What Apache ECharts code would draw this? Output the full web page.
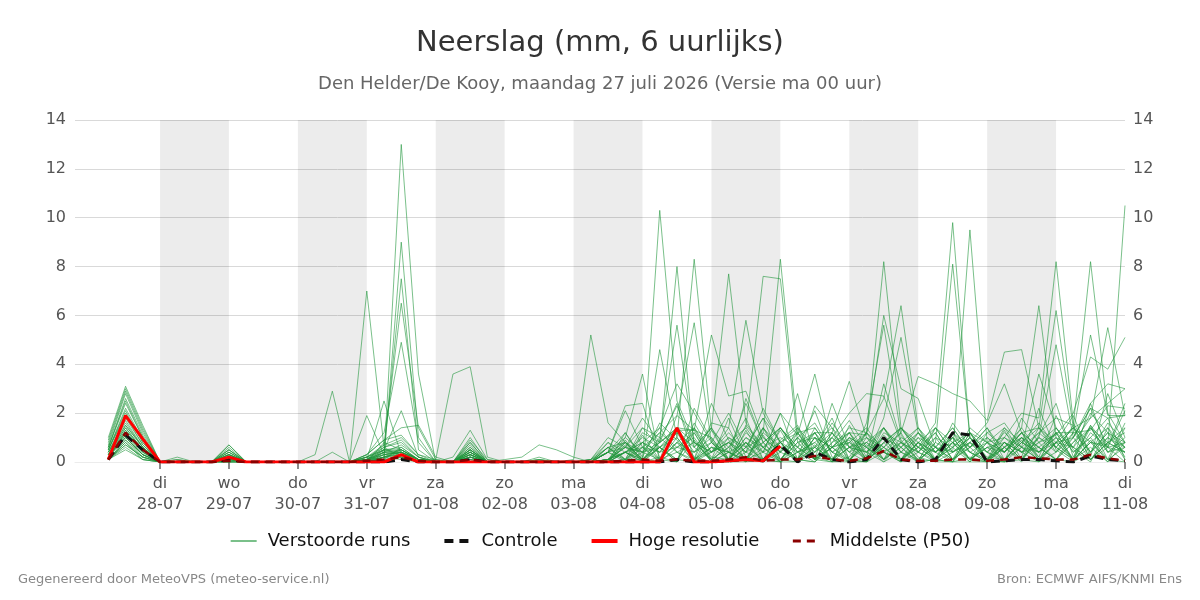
<!DOCTYPE html>
<html>
<head>
<meta charset="utf-8">
<title>Neerslag (mm, 6 uurlijks)</title>
<script src="https://cdn.jsdelivr.net/npm/echarts@6/dist/echarts.min.js"></script>
<style>
  html, body { margin: 0; padding: 0; background: #fff; }
  #chart { width: 1200px; height: 600px; }
</style>
</head>
<body>
<div id="chart"></div>
<script>
// tijd in uren na ma 27-07 00 uur, eerste waarde op +6 uur
var stepHours = 6;
var tickHours = [24, 48, 72, 96, 120, 144, 168, 192, 216, 240, 264, 288, 312, 336, 360];
var tickLabels = ['di\n28-07', 'wo\n29-07', 'do\n30-07', 'vr\n31-07', 'za\n01-08', 'zo\n02-08', 'ma\n03-08',
  'di\n04-08', 'wo\n05-08', 'do\n06-08', 'vr\n07-08', 'za\n08-08', 'zo\n09-08', 'ma\n10-08', 'di\n11-08'];
// grijze dagen (begin, eind in uren)
var shadedDays = [[24, 48], [72, 96], [120, 144], [168, 192], [216, 240], [264, 288], [312, 336]];

var control = [0.1, 1.1, 0.5, 0, 0, 0, 0, 0.1, 0, 0, 0, 0, 0, 0, 0, 0, 0, 0.1, 0, 0,
  0, 0.1, 0, 0, 0, 0, 0, 0, 0, 0, 0, 0, 0, 0.1, 0, 0, 0.05, 0.1, 0.05, 0.7,
  0, 0.4, 0.1, 0, 0.1, 1.0, 0.1, 0, 0.1, 1.2, 1.1, 0, 0.05, 0.1, 0.1, 0.05, 0, 0.25, 0.1, 0.05];
var hres = [0.1, 1.9, 0.95, 0, 0, 0, 0, 0.2, 0, 0, 0, 0, 0, 0, 0, 0, 0, 0.3, 0, 0,
  0, 0, 0, 0, 0, 0, 0, 0, 0, 0, 0, 0, 0, 1.4, 0, 0, 0.05, 0.1, 0.05, 0.65];
var p50 = [0.1, 1.2, 0.5, 0, 0, 0, 0, 0.05, 0, 0, 0, 0, 0, 0, 0, 0.05, 0.1, 0.2, 0.05, 0,
  0, 0.1, 0, 0, 0, 0, 0, 0, 0, 0, 0.05, 0.1, 0.05, 0.1, 0.05, 0.05, 0.1, 0.2, 0.05, 0.1,
  0.1, 0.25, 0.1, 0.05, 0.15, 0.45, 0.1, 0.05, 0.05, 0.1, 0.1, 0.05, 0.1, 0.2, 0.15, 0.1, 0.1, 0.3, 0.15, 0.05];

// verstoorde runs
var run01 = [0.2,1.2,0.4,0, 0,0,0,0.3,0,0,0,0, 0.3,2.9,0,0,0.2,0.1,0,0, 0,0,0,0,0,0,0,0, 0,0,0.9,0,0,1.3,0.2,0, 0,0,1.1,0,0,0.7,0,0, 1.6,5.6,1.1,0.2,0,0,0,0, 0,1.0,0.2,1.9,0.5,0,1.4,0.2];
var run02 = [0.1,0.7,0.2,0, 0,0,0,0,0,0,0,0, 0,0.4,0,0,0.8,0.5,0.1,0, 0,0.6,0,0,0,0,0,0, 0,0,1.2,0.2,1.6,0.9,0,0, 0,1.3,0.1,0,0.6,2.1,0.2,0, 0.2,3.2,0.9,0,0.1,0,1.2,0.1, 0,0.2,2.2,0.5,0,0.9,0,1.4];
var run03 = [0.3,1.0,0.3,0, 0,0,0,0.1,0,0,0,0, 0,0,0,7.0,0.6,0.2,0,0, 0,0,0,0,0,0,0,0, 0,0,0.1,0,0.9,2.3,0.6,0.1, 1.8,0.2,0,0.9,1.5,0.1,0,0.2, 1.2,2.6,6.4,1.4,0.1,0,0.2,0, 0.6,0,1.1,2.4,0.2,1.5,0.1,0];
var run04 = [0.6,2.6,1.1,0, 0,0,0,0.5,0,0,0,0, 0,0,0,1.9,0.3,0.4,0,0, 0,0.5,0,0,0,0,0,0, 0,0.6,0,1.1,0.1,1.9,1.3,0.2, 0.1,2.6,0.8,0,1.2,0.2,0,1.5, 0.2,1.8,5.1,1.2,0,0.8,0.1,0, 1.3,0.1,0,0.8,1.9,0.2,2.8,1.0];
var run05 = [0.2,1.3,0.5,0, 0,0,0,0.1,0,0,0,0, 0,0,0,0.1,2.5,0.3,0,0, 0,0.2,0,0,0,0,0,0, 0,0,0.7,0,0.2,0,2.2,0.9, 0,0.6,1.8,0.1,0,1.0,0.6,0.1, 0.7,0.4,1.2,3.5,3.2,2.8,2.5,1.7, 4.5,4.6,1.4,0.8,0.1,1.5,0.6,0];
var run06 = [0.1,0.8,0.1,0, 0,0,0,0,0,0,0,0, 0,0,0,0,0.1,13.0,3.6,0, 0,0.1,0,0,0,0,0,0, 0,0,0,0.4,0.1,0,0.9,0, 0.4,0,0.1,1.3,0.1,0,0.6,0.9, 0,0.4,0.1,0.6,1.6,9.8,1.0,0.2, 0.1,0.9,0,0.4,1.5,0.1,0.6,2.1];
var run07 = [0.8,2.9,1.3,0, 0,0,0,0.6,0,0,0,0, 0,0,0,0.2,0.1,9.0,1.0,0, 0,0.8,0,0,0,0.1,0,0, 0,0.4,2.1,0.6,0,1.3,0.1,2.4, 0.9,0.1,0,0.4,2.8,0.1,1.2,0, 0,1.1,0.4,0,0.8,8.1,1.0,0.1, 0,1.8,0.8,0.1,0,0.4,1.2,0.6];
var run08 = [0.2,1.1,0.4,0, 0,0,0,0.2,0,0,0,0, 0,0,0,0,0.4,7.5,0.5,0, 0,0.3,0,0,0,0,0,0, 0,0,0.4,0,0.6,0.1,0,1.3, 0.1,1.5,0.6,0,0.4,0,0.8,1.7, 0.6,0.1,1.4,0.8,0,0.4,9.5,0.8, 0,0.1,1.4,0.6,0.1,2.4,0.4,0.8];
var run09 = [1.0,3.1,1.5,0, 0.1,0,0,0.7,0,0,0,0, 0,0,0,0.2,0.7,6.5,1.4,0.1, 0,1.0,0,0,0,0.2,0,0, 0,0.8,0.1,1.4,0.6,0,1.6,0.4, 1.2,0.4,2.2,0.8,0.1,0.6,1.8,0.1, 0,0.8,0.1,1.2,0.4,0,0.8,1.6, 3.2,1.2,0.2,0.1,1.0,2.4,3.2,3.0];
var run10 = [0.3,1.5,0.6,0, 0,0,0,0.3,0,0,0,0, 0,0,0,0.3,1.2,4.9,0.8,0, 0,0.5,0,0,0,0,0,0, 0,0.1,0,0.8,1.4,0.4,0,0.6, 0.4,0,1.4,0.1,0.8,1.2,0,1.0, 0.1,1.4,0.6,0,0.1,0.8,0.4,0, 0.8,0.4,0,1.4,0.6,0.1,0.8,0.4];
var run11 = [0.1,0.9,0.3,0, 0,0,0,0.1,0,0,0,0, 0,0,0,0,0.5,2.1,0.2,0, 0,0.2,0,0,0,0,0,0, 0,0,0.8,0.1,0,0.6,1.0,0, 0.1,0.8,0,0.6,0.1,1.4,0.4,0, 1.0,0.1,0.6,1.4,0.4,1.0,0.1,0.6, 0.4,1.4,6.4,1.0,0.1,0.6,0,0.8];
var run12 = [0.5,2.0,0.8,0, 0,0,0,0.4,0,0,0,0, 0,0,0,0.3,0.9,1.4,1.5,0.2, 0,0.7,0,0,0,0,0,0, 0.1,0.4,1.2,0.1,0.8,1.3,1.3,1.0, 0,0.4,0.8,1.4,0.6,0.1,1.0,0.4, 1.2,0.6,0,0.4,1.4,0.8,0.1,1.2, 1.6,0.6,3.6,1.4,0.4,1.0,1.8,0.1];
var run13 = [0.2,1.2,0.4,0, 0,0,0,0,0,0,0,0, 0,0,0,0,0.2,0.5,0.1,0.1, 3.6,3.9,0.2,0,0,0,0,0, 0,0,0.4,0,0.1,0.8,0,0.4, 1.4,0,0.6,0.1,1.0,0.4,1.6,0.6, 0.1,1.2,0.8,0.1,0.6,1.4,0.4,0.8, 1.0,2.0,1.8,8.2,1.6,0.4,1.2,0.1];
var run14 = [0.6,2.4,1.0,0, 0,0,0,0.4,0,0,0,0, 0,0,0,0.1,0.6,0.9,0.2,0, 0.2,1.3,0.1,0,0,0,0,0, 0,0.1,0.4,1.0,0.6,0,1.4,0.1, 0.6,1.8,0.1,0.8,0,0.6,1.2,0.4, 0,0.8,1.4,0.4,0.1,1.6,0.6,0, 0.6,1.2,1.4,6.2,1.4,0.8,0.1,1.6];
var run15 = [0.1,0.5,0.1,0, 0,0,0,0,0,0,0,0, 0,0,0,0,0.1,0.2,0,0, 0,0.2,0,0.1,0.2,0.7,0.5,0.2, 0,0.4,0,0.6,0.4,1.4,0.1,0, 0.4,0.8,0.1,0,1.4,0.6,0.1,1.0, 0.6,0,0.4,1.0,0.1,0.6,1.2,0.1, 0.8,0.1,1.0,4.8,1.0,2.2,0.6,0.4];
var run16 = [0.3,1.4,0.5,0, 0,0,0,0.2,0,0,0,0, 0,0,0,0,0.3,0.4,0.1,0, 0,0.3,0,0,0,0,0,0.1, 5.2,1.6,0.8,0,0.6,0.1,1.2,0, 0.8,0.1,0.4,2.0,0.1,1.0,0,0.6, 0.4,1.0,0.1,0.6,1.2,0.1,0.8,0.4, 0.1,0.6,1.2,1.8,1.5,8.2,2.0,0.8];
var run17 = [0.4,1.8,0.7,0, 0,0,0,0.3,0,0,0,0, 0,0,0,0.1,0.4,0.7,0.2,0, 0,0.4,0,0,0,0,0,0, 0,0.4,2.3,2.4,0.1,0.8,0.4,1.4, 0.1,1.2,0.6,0,0.4,0.8,1.4,0.1, 0.8,0.4,0,0.8,0.1,1.2,0.6,1.4, 0.4,1.0,0.1,1.2,1.2,5.2,1.9,1.9];
var run18 = [0.1,0.8,0.2,0, 0,0,0,0,0,0,0,0, 0,0,0,0.1,0.2,0.3,0,0, 0,0.1,0,0,0,0,0,0, 0,0.1,1.0,3.6,0.1,0.4,0.8,0.1, 0,0.6,1.0,0.4,0.1,0,0.8,1.2, 0.1,0.6,1.2,0,0.8,0.4,1.0,0.1, 1.4,0.4,0.8,1.1,2.0,4.3,3.8,5.1];
var run19 = [0.3,1.2,0.5,0, 0,0,0,0.2,0,0,0,0, 0,0,0,0,0.1,0.6,0.1,0, 0,0.3,0,0,0,0,0,0, 0,0,0.1,0.1,10.3,2.5,0.8,0.1, 1.0,0.4,0.1,0.8,1.4,0.1,0.6,0, 1.2,0.1,0.8,0.4,0,1.0,0.6,1.4, 0.1,0.8,1.6,0.6,1.4,1.8,5.5,1.9];
var run20 = [0.4,1.6,0.6,0, 0,0,0,0.2,0,0,0,0, 0,0,0,0.2,0.5,0.3,0,0, 0,0.5,0,0,0,0,0,0, 0,0.4,0.8,0.1,4.6,1.0,0.1,0.6, 0.1,0.8,0,1.4,0.4,0.6,0.1,0.8, 1.4,0.4,0.1,1.0,0.6,0,1.2,0.4, 0,0.6,0.4,1.0,0.1,0.8,0.7,10.5];
var run21 = [0.7,2.8,1.2,0, 0.1,0,0,0.5,0,0,0,0, 0,0,0,0.1,0.7,1.0,0.3,0, 0,0.8,0,0,0,0.1,0,0, 0.1,0.6,0.1,1.2,0.8,8.0,0.6,1.4, 0.4,2.4,0.8,0.1,1.0,1.6,0.4,0.1, 0.6,1.4,0.4,0.1,1.0,0.6,0,0.8, 0.4,1.2,0.6,0.1,0.8,1.8,2.4,3.0];
var run22 = [0.2,1.1,0.3,0, 0,0,0,0.1,0,0,0,0, 0,0,0,0,0.2,0.4,0.1,0, 0,0.3,0,0,0,0,0,0, 0,0.1,0.6,1.4,1.0,5.6,0.8,0.4, 0.8,0.1,1.2,0.6,0,0.4,1.0,0.1, 0,0.8,1.4,0.6,0.1,1.2,0.4,0, 0.8,0.1,1.0,0.4,1.2,1.3,2.3,2.2];
var run23 = [0.1,0.7,0.2,0, 0,0,0,0.1,0,0,0,0, 0,0,0,0.1,0.3,0.2,0,0, 0,0.2,0,0,0,0,0,0, 0,0.1,0.8,0.4,1.4,3.2,2.0,0.8, 0.1,1.0,0.4,0,0.8,0.1,2.4,0.6, 0.4,0,0.8,1.4,0.6,0.1,1.0,0.4, 1.2,0.6,0.1,0.8,1.0,2.2,1.8,1.9];
var run24 = [0.5,2.2,0.9,0, 0,0,0,0.4,0,0,0,0, 0,0,0,0.2,0.5,0.6,0.1,0, 0,0.5,0,0,0,0,0,0, 0,0.1,0.4,0.8,0.1,1.0,8.3,1.3, 0.6,0.1,1.4,0.4,1.0,0.1,0.6,1.2, 0.1,1.0,0.6,0,1.4,0.4,0.8,0.1, 0.6,1.4,0.4,1.2,0.1,0.8,0.6,2.4];
var run25 = [0.3,1.3,0.5,0, 0,0,0,0.2,0,0,0,0, 0,0,0,0,0.4,0.3,0,0, 0,0.3,0,0,0,0,0,0, 0,0.4,0.1,0.6,1.2,1.9,5.7,0.8, 2.0,0.6,0.1,0.8,0.4,1.2,0.1,0.6, 1.0,0.4,0,0.8,0.1,0.6,1.2,0.8, 0.1,0.8,1.4,0.4,1.0,0.1,0.8,1.4];
var run26 = [0.4,1.7,0.6,0, 0,0,0,0.3,0,0,0,0, 0,0,0,0.1,0.3,0.5,0.1,0, 0,0.4,0,0,0,0,0,0, 0.1,0.8,0.4,0.1,0.6,1.4,1.3,5.2, 2.7,2.9,1.0,0.4,1.2,0.1,0.6,0.8, 0.4,1.4,0.1,0.8,0.4,1.0,0.1,0.6, 0.8,0.4,1.2,0.6,0.1,1.4,0.8,0.4];
var run27 = [0.1,0.6,0.1,0, 0,0,0,0,0,0,0,0, 0,0,0,0,0.1,0.2,0,0, 0,0.1,0,0,0,0,0,0, 0,0.1,0.4,0.8,0.4,1.2,0.6,1.4, 7.7,1.6,0.6,1.0,0.6,0.1,1.2,0.4, 0.8,0.1,0.6,1.2,0.4,0.8,0,1.0, 0.4,1.0,0.6,0.1,1.2,0.4,1.6,0.8];
var run28 = [0.5,2.1,0.8,0, 0,0,0,0.3,0,0,0,0, 0,0,0,0.1,0.5,0.4,0.1,0, 0,0.4,0,0,0,0,0,0, 0,0.6,0.8,0.1,1.0,0.4,0.1,1.6, 1.4,5.8,2.0,0.8,0.1,1.2,0.4,0.8, 0.1,0.6,1.4,0.4,1.0,0.1,0.6,1.2, 0.6,0.1,0.8,1.4,0.4,1.0,0.1,0.6];
var run29 = [0.2,1.0,0.3,0, 0,0,0,0.1,0,0,0,0, 0,0,0,0,0.2,0.4,0.1,0, 0,0.2,0,0,0,0,0,0, 0,0,0.4,0.6,0.1,0.8,1.4,0.4, 0.8,1.4,7.6,7.5,0.8,1.0,0.1,0.6, 1.2,0.4,0.8,0.1,0.6,1.4,0.4,0.1, 1.0,0.4,0.6,1.2,0.1,0.8,1.4,0.6];
var run30 = [0.6,2.5,1.0,0, 0,0,0,0.5,0,0,0,0, 0,0,0,0.2,0.6,0.8,0.2,0, 0,0.6,0,0,0,0,0,0, 0,0.4,1.0,0.4,0.8,2.4,0.1,0.8, 0.4,0.1,1.2,8.3,1.2,1.4,0.4,1.0, 0.6,0.1,1.0,0.6,0.4,1.2,0.1,0.8, 0.4,1.2,0.1,0.8,0.6,1.4,0.4,1.0];
var run31 = [0.3,1.4,0.5,0, 0,0,0,0.2,0,0,0,0, 0,0,0,0.1,0.4,0.5,0.1,0, 0,0.4,0,0,0,0,0,0, 0,0.1,0.6,0.4,1.2,0.6,0.4,1.0, 0.1,0.8,0.4,2.0,1.1,3.6,0.6,1.2, 0.4,1.0,0.1,0.8,1.4,0.4,0.8,0.1, 0.8,0.4,1.0,0.6,1.4,0.1,0.8,1.2];
var run32 = [0.9,3.0,1.4,0, 0.2,0,0,0.7,0,0,0,0, 0,0,0,0.3,0.9,1.1,0.3,0.1, 0,0.9,0.1,0,0,0.1,0,0, 0.1,1.0,0.6,1.8,0.8,1.4,0.8,0.4, 1.0,0.6,1.8,0.8,0.1,2.3,1.4,0.6, 0.8,1.4,0.4,1.2,0.6,0.1,1.4,0.8, 1.4,0.8,0.4,1.0,0.6,2.0,1.2,0.8];
var run33 = [0.1,0.9,0.2,0, 0,0,0,0,0,0,0,0, 0,0,0,0,0.2,0.3,0,0, 0,0.2,0,0,0,0,0,0, 0,0,0.4,0.1,0.6,1.0,0.1,0.6, 0.4,0.1,0.8,1.4,0.6,1.2,1.2,3.3, 1.0,0.6,0.1,0.8,0.4,1.0,0.1,0.6, 0.1,0.8,0.4,1.2,0.6,0.1,1.0,0.4];
var run34 = [0.4,1.5,0.6,0, 0,0,0,0.2,0,0,0,0, 0,0,0,0.1,0.4,0.4,0.1,0, 0,0.4,0,0,0,0,0,0, 0,0.6,0.1,0.8,0.4,0.6,1.2,0.1, 0.6,1.4,0.4,0.8,1.2,0.4,1.0,2.0, 2.8,2.7,0.8,0.4,1.2,0.1,0.6,1.0, 0.4,1.2,0.6,0.1,0.8,1.4,0.4,0.6];
var run35 = [0.5,1.9,0.7,0, 0,0,0,0.3,0,0,0,0, 0,0,0,0.1,0.5,0.5,0.1,0, 0,0.5,0,0,0,0,0,0, 0,0.4,0.6,0.1,0.8,1.4,0.4,0.8, 0.1,1.0,0.6,1.4,0.4,0.8,0.1,1.2, 1.1,8.2,1.4,0.6,0.1,0.8,1.2,0.4, 1.0,0.6,0.1,0.8,1.4,0.4,1.0,0.6];
var run36 = [0.2,1.0,0.3,0, 0,0,0,0.1,0,0,0,0, 0,0,0,0,0.3,0.4,0,0, 0,0.3,0,0,0,0,0,0, 0,0.1,0.6,0.4,0.6,1.2,0.1,0.4, 0.8,0.4,1.4,0.6,0.1,1.0,0.6,1.4, 1.2,6.0,3.0,2.6,0.6,0.4,1.0,0.1, 0.6,1.0,0.4,0.8,0.1,1.2,0.6,0.8];

var runs = [run01, run02, run03, run04, run05, run06, run07, run08, run09, run10, run11, run12,
  run13, run14, run15, run16, run17, run18, run19, run20, run21, run22, run23, run24,
  run25, run26, run27, run28, run29, run30, run31, run32, run33, run34, run35, run36];

var font = 'DejaVu Sans';
var runColor = 'rgba(34,150,60,0.6)';

function toPoints(values) {
  return values.map(function (v, i) { return [(i + 1) * stepHours, v]; });
}

var series = [];
// grijze achtergrond voor om-en-om dagen
series.push({
  type: 'line',
  data: [],
  silent: true,
  markArea: {
    silent: true,
    itemStyle: { color: 'rgba(0,0,0,0.073)' },
    data: shadedDays.map(function (d) { return [{ xAxis: d[0] }, { xAxis: d[1] }]; })
  }
});
runs.forEach(function (run) {
  series.push({
    name: 'Verstoorde runs',
    type: 'line',
    data: toPoints(run),
    symbol: 'none',
    silent: true,
    z: 2,
    lineStyle: { color: runColor, width: 1 },
    itemStyle: { color: runColor },
    emphasis: { disabled: true }
  });
});
series.push({
  name: 'Controle',
  type: 'line',
  data: toPoints(control),
  symbol: 'none',
  silent: true,
  z: 4,
  lineStyle: { color: '#111', width: 3, type: [9, 6] },
  itemStyle: { color: '#111' },
  emphasis: { disabled: true }
});
series.push({
  name: 'Hoge resolutie',
  type: 'line',
  data: toPoints(hres),
  symbol: 'none',
  silent: true,
  z: 5,
  lineStyle: { color: '#ff0000', width: 3 },
  itemStyle: { color: '#ff0000' },
  emphasis: { disabled: true }
});
series.push({
  name: 'Middelste (P50)',
  type: 'line',
  data: toPoints(p50),
  symbol: 'none',
  silent: true,
  z: 6,
  lineStyle: { color: '#8b0000', width: 2.5, type: [8, 6] },
  itemStyle: { color: '#8b0000' },
  emphasis: { disabled: true }
});

var yAxisBase = {
  type: 'value',
  min: 0,
  max: 14,
  interval: 2,
  axisLine: { show: false },
  axisTick: { show: false },
  axisLabel: { color: '#555', fontSize: 16, fontFamily: font }
};

var option = {
  animation: false,
  backgroundColor: '#fff',
  title: [
    { text: 'Neerslag (mm, 6 uurlijks)', left: 'center', top: 29, padding: 0,
      textStyle: { fontSize: 29, fontWeight: 'normal', color: '#333', fontFamily: font } },
    { text: 'Den Helder/De Kooy, maandag 27 juli 2026 (Versie ma 00 uur)', left: 'center', top: 75, padding: 0,
      textStyle: { fontSize: 18, fontWeight: 'normal', color: '#666', fontFamily: font } },
    { text: 'Gegenereerd door MeteoVPS (meteo-service.nl)', left: 18, top: 573, padding: 0,
      textStyle: { fontSize: 13, fontWeight: 'normal', color: '#888', fontFamily: font } },
    { text: 'Bron: ECMWF AIFS/KNMI Ens', right: 18, top: 573, padding: 0,
      textStyle: { fontSize: 13, fontWeight: 'normal', color: '#888', fontFamily: font } }
  ],
  legend: {
    data: [
      { name: 'Verstoorde runs' },
      { name: 'Controle', lineStyle: { width: 4 } },
      { name: 'Hoge resolutie', lineStyle: { width: 4 } },
      { name: 'Middelste (P50)', lineStyle: { width: 3 } }
    ],
    left: 'center',
    top: 532,
    padding: 0,
    itemWidth: 26,
    itemHeight: 14,
    itemGap: 32,
    itemStyle: { opacity: 0 },
    textStyle: { fontSize: 18, color: '#111', fontFamily: font, padding: [0, 0, 0, 6] }
  },
  grid: { left: 75, right: 75, top: 120, bottom: 138 },
  xAxis: {
    type: 'value',
    min: -5.6,
    max: 360,
    splitLine: { show: false },
    axisLine: { show: true, lineStyle: { color: '#ececec', width: 1 } },
    axisTick: { show: true, length: 7, lineStyle: { color: '#666', width: 1.5 }, customValues: tickHours },
    axisLabel: {
      customValues: tickHours,
      color: '#555',
      fontSize: 16,
      lineHeight: 21,
      margin: 11,
      fontFamily: font,
      formatter: function (value) {
        return tickLabels[tickHours.indexOf(Math.round(value))];
      }
    }
  },
  yAxis: [
    Object.assign({}, yAxisBase, {
      position: 'left',
      axisLabel: Object.assign({}, yAxisBase.axisLabel, { margin: 9 }),
      splitLine: { show: true, showMinLine: false, lineStyle: { color: '#d9d9d9', width: 1 } }
    }),
    Object.assign({}, yAxisBase, {
      position: 'right',
      axisLabel: Object.assign({}, yAxisBase.axisLabel, { margin: 8 }),
      splitLine: { show: false }
    })
  ],
  series: series
};

var chart = echarts.init(document.getElementById('chart'));
chart.setOption(option);
</script>
</body>
</html>
